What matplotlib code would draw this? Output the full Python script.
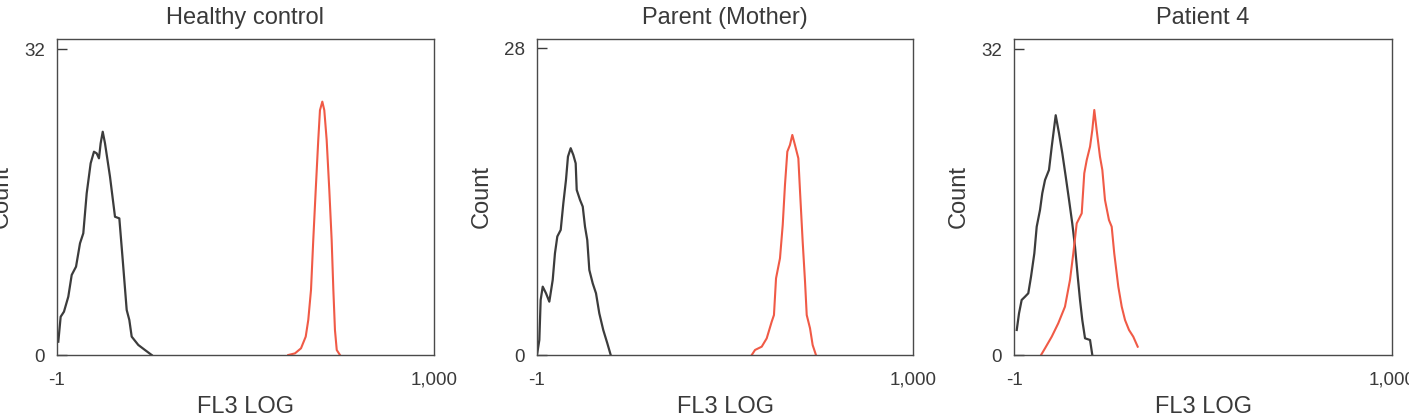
import matplotlib
matplotlib.use("Agg")
import matplotlib.pyplot as plt
import numpy as np

plt.rcParams['font.family'] = ['Liberation Sans', 'DejaVu Sans']

titles = ["Healthy control", "Parent (Mother)", "Patient 4"]
ymax_ticks = [32, 28, 32]
ylims = [33.05, 28.85, 33.08]
x_ticklabels = ["-1", "1,000"]
x_label = "FL3 LOG"
y_label = "Count"

# x values in log10 decades (axis spans -1 .. 3 decades)
hc_black_x = [-0.983, -0.958, -0.923, -0.877, -0.841, -0.795, -0.753, -0.718, -0.682, -0.640,
              -0.605, -0.576, -0.552, -0.534, -0.512, -0.488, -0.435, -0.382, -0.336, -0.300,
              -0.258, -0.230, -0.205, -0.135, -0.064, 0.007]
hc_black_y = [1.39, 4.0, 4.53, 6.10, 8.37, 9.24, 11.68, 12.73, 16.91, 20.05,
              21.26, 21.09, 20.57, 22.14, 23.35, 22.14, 18.65, 14.46, 14.29, 9.93,
              4.71, 3.66, 1.92, 1.05, 0.52, 0.0]
hc_red_x = [1.455, 1.526, 1.590, 1.640, 1.667, 1.696, 1.720, 1.746, 1.773, 1.791,
            1.816, 1.837, 1.862, 1.890, 1.915, 1.933, 1.950, 1.969, 2.003]
hc_red_y = [0.0, 0.17, 0.70, 1.92, 3.66, 6.80, 12.03, 17.26, 22.5, 25.6,
            26.5, 25.6, 22.5, 17.26, 12.03, 6.80, 2.61, 0.52, 0.0]

pm_black_x = [-0.994, -0.972, -0.958, -0.936, -0.901, -0.866, -0.830, -0.806, -0.781, -0.745,
              -0.717, -0.689, -0.668, -0.639, -0.611, -0.586, -0.575, -0.540, -0.511, -0.487,
              -0.463, -0.441, -0.405, -0.370, -0.335, -0.293, -0.250, -0.214]
pm_black_y = [0.16, 1.37, 5.02, 6.24, 5.63, 4.87, 6.85, 9.29, 10.82, 11.42,
              13.86, 15.98, 18.11, 18.88, 18.26, 17.5, 15.07, 14.16, 13.55, 11.72,
              10.5, 7.76, 6.54, 5.63, 3.8, 2.28, 1.07, 0.0]
pm_red_x = [1.284, 1.319, 1.390, 1.443, 1.496, 1.520, 1.542, 1.584, 1.613, 1.637, 1.662,
            1.690, 1.715, 1.743, 1.779, 1.797, 1.825, 1.850, 1.868, 1.903, 1.931, 1.966]
pm_red_y = [0.0, 0.46, 0.76, 1.52, 3.04, 3.65, 7.0, 8.83, 11.87, 15.53, 18.57,
            19.18, 20.09, 19.18, 17.96, 14.92, 10.35, 6.7, 3.65, 2.44, 0.91, 0.0]

p4_black_x = [-0.971, -0.947, -0.919, -0.884, -0.849, -0.820, -0.785, -0.760, -0.725, -0.701,
              -0.672, -0.630, -0.601, -0.559, -0.524, -0.489, -0.453, -0.418, -0.384, -0.355,
              -0.326, -0.302, -0.278, -0.249, -0.196, -0.172]
p4_black_y = [2.62, 4.36, 5.76, 6.1, 6.46, 8.2, 10.64, 13.43, 15.18, 16.93,
              18.32, 19.37, 21.81, 25.1, 23.2, 21.11, 18.67, 16.23, 13.78, 11.34,
              8.2, 5.76, 3.66, 1.75, 1.57, 0.0]
p4_red_x = [-0.714, -0.672, -0.601, -0.532, -0.461, -0.408, -0.373, -0.337, -0.284, -0.257,
            -0.231, -0.196, -0.172, -0.151, -0.126, -0.091, -0.066, -0.038, 0.004, 0.033,
            0.060, 0.103, 0.139, 0.174, 0.216, 0.261, 0.308]
p4_red_y = [0.0, 0.70, 1.92, 3.32, 5.06, 7.85, 10.64, 13.78, 14.83, 19.02,
            20.41, 21.81, 23.55, 25.65, 23.55, 20.76, 19.37, 16.23, 14.13, 13.43,
            10.64, 7.15, 5.06, 3.66, 2.62, 1.92, 0.87]

black_series = [(hc_black_x, hc_black_y), (pm_black_x, pm_black_y), (p4_black_x, p4_black_y)]
red_series = [(hc_red_x, hc_red_y), (pm_red_x, pm_red_y), (p4_red_x, p4_red_y)]

W, H = 1409, 419
fig = plt.figure(figsize=(W / 100, H / 100), dpi=100)

lefts = [56.7, 536.7, 1014.0]
widths = [377.3, 376.6, 378.3]
top_px, bottom_px = 39.0, 355.0

text_color = '#3a3a3a'
black_col = '#3c3c3c'
red_col = '#f05a46'

for i in range(3):
    ax = fig.add_axes([lefts[i] / W, (H - bottom_px) / H, widths[i] / W, (bottom_px - top_px) / H])
    bx, by = black_series[i]
    rx, ry = red_series[i]
    ax.plot(10 ** np.array(bx), by, color=black_col, lw=1.6)
    ax.plot(10 ** np.array(rx), ry, color=red_col, lw=1.5)
    ax.set_xscale('log')
    ax.set_xlim(0.1, 1000)
    ax.set_ylim(0, ylims[i])
    ax.set_xticks([0.1, 1000])
    ax.set_xticklabels(x_ticklabels)
    ax.xaxis.set_minor_locator(matplotlib.ticker.NullLocator())
    ax.set_yticks([0, ymax_ticks[i]])
    ax.set_yticklabels(['0', str(ymax_ticks[i])])
    ax.tick_params(axis='x', length=0, pad=12, labelsize=13.5, colors=text_color)
    ax.tick_params(axis='y', direction='in', length=7, width=1, pad=8.5,
                   labelsize=13.5, colors=text_color)
    for sp in ax.spines.values():
        sp.set_color('#4a4a4a')
        sp.set_linewidth(1.0)
    ax.set_title(titles[i], fontsize=17, color=text_color, pad=11)
    ax.set_xlabel(x_label, fontsize=17, color=text_color, labelpad=5)
    ax.set_ylabel(y_label, fontsize=17, color=text_color, labelpad=8)

fig.savefig('out.png', dpi=100)
